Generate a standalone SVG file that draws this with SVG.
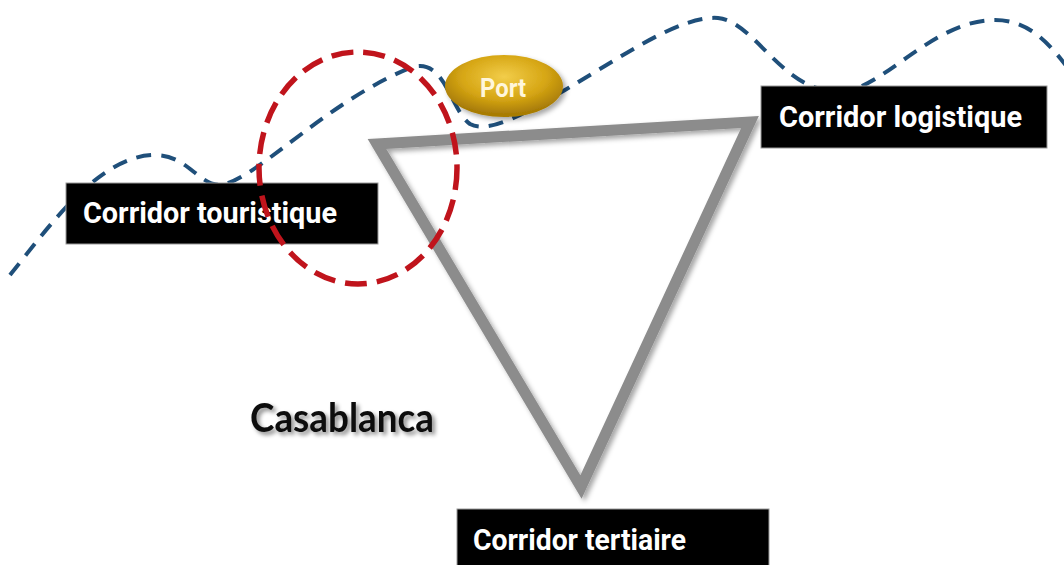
<svg xmlns="http://www.w3.org/2000/svg" width="1064" height="565" viewBox="0 0 1064 565">
<style>
.coast{fill:none;stroke:#1f4f7a;stroke-width:4;stroke-dasharray:15 10;stroke-linecap:butt}
.zone{fill:none;stroke:#c0141c;stroke-width:5.5;stroke-dasharray:22 10}
.box{fill:#000;stroke:#9a9a9a;stroke-width:1}
.lbl{font-family:Roboto,"Liberation Sans",sans-serif;font-weight:700;font-size:29px;fill:#fff}
.edge{fill:none;stroke:#8c8c8c;stroke-width:11;stroke-linejoin:miter;stroke-miterlimit:10}
.city{font-family:Lato,"Open Sans",sans-serif;font-weight:700;font-size:41px;fill:#111}
.port{font-family:Roboto,"Liberation Sans",sans-serif;font-weight:700;font-size:26px;fill:#fff6dc}
</style>
<defs>
<filter id="sh" x="-10%" y="-10%" width="130%" height="130%">
<feGaussianBlur in="SourceAlpha" stdDeviation="2.5"/>
<feOffset dx="3" dy="3" result="b"/>
<feFlood flood-color="#000" flood-opacity="0.35"/>
<feComposite in2="b" operator="in"/>
<feMerge><feMergeNode/><feMergeNode in="SourceGraphic"/></feMerge>
</filter>
<filter id="tsh" x="-10%" y="-20%" width="130%" height="150%">
<feGaussianBlur in="SourceAlpha" stdDeviation="2"/>
<feOffset dx="3" dy="3" result="b"/>
<feFlood flood-color="#000" flood-opacity="0.45"/>
<feComposite in2="b" operator="in"/>
<feMerge><feMergeNode/><feMergeNode in="SourceGraphic"/></feMerge>
</filter>
<radialGradient id="gold" cx="50%" cy="35%" r="60%">
<stop offset="0" stop-color="#f2cd4a"/>
<stop offset="0.6" stop-color="#d6a614"/>
<stop offset="1" stop-color="#a87c06"/>
</radialGradient>
</defs>
<rect width="1064" height="565" fill="#fff"/>
<path id="coast" class="coast" d="M 10 275 C 50 225, 100 155, 155 155 C 190 155, 200 190, 225 184 C 260 175, 330 100, 410 68 C 445 55, 450 110, 470 124 C 490 135, 530 110, 565 90 C 620 58, 680 15, 718 18 C 755 22, 780 88, 835 92 C 880 95, 930 20, 995 20 C 1030 20, 1050 45, 1068 68"/>
<g id="connectors">
<polygon class="edge" points="377,144 750,122 581,487" filter="url(#sh)"/>
</g>
<g id="node-touristique">
<rect class="box" x="66" y="183" width="312" height="61"/>
<text class="lbl" x="83" y="223" textLength="254" lengthAdjust="spacingAndGlyphs">Corridor touristique</text>
</g>
<g id="node-logistique">
<rect class="box" x="761" y="86" width="286" height="62"/>
<text class="lbl" x="779" y="127" textLength="243" lengthAdjust="spacingAndGlyphs">Corridor logistique</text>
</g>
<g id="node-tertiaire">
<rect class="box" x="457" y="509" width="312" height="60"/>
<text class="lbl" x="473" y="550" textLength="213" lengthAdjust="spacingAndGlyphs">Corridor tertiaire</text>
</g>
<g id="node-port">
<ellipse cx="504" cy="86" rx="59" ry="31" fill="url(#gold)" filter="url(#sh)"/>
<text class="port" x="480" y="97" textLength="46" lengthAdjust="spacingAndGlyphs">Port</text>
</g>
<ellipse id="zone" class="zone" cx="358" cy="168" rx="99" ry="116"/>
<g id="node-casablanca">
<text class="city" x="250" y="432" textLength="184" lengthAdjust="spacingAndGlyphs" filter="url(#tsh)">Casablanca</text>
</g>
</svg>
